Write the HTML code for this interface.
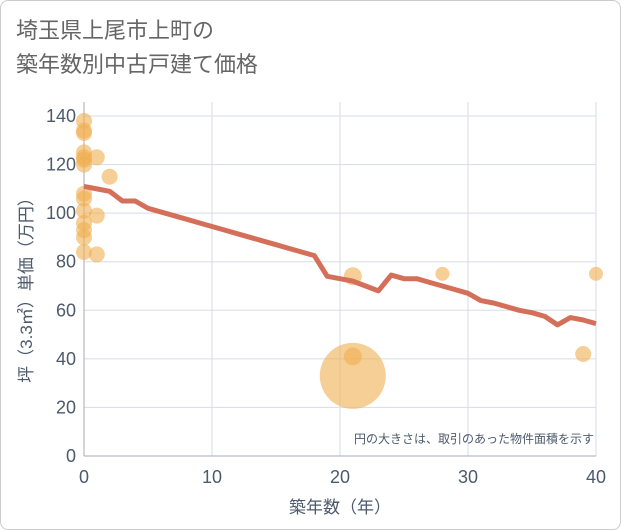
<!DOCTYPE html>
<html><head><meta charset="utf-8"><style>
body{margin:0;background:#fff;}
#wrap{position:relative;width:621px;height:530px;font-family:"Liberation Sans","Noto Sans CJK JP",sans-serif;}
#frame{position:absolute;left:0;top:0;width:619px;height:528px;border:1px solid #ccc;border-radius:8px;}
#title{position:absolute;left:16px;top:14px;font-size:22px;line-height:34px;color:#666;}
</style></head><body>
<div id="wrap">
<div id="frame"></div>
<div id="title">埼玉県上尾市上町の<br>築年数別中古戸建て価格</div>
<svg id="chart" width="621" height="530" style="position:absolute;left:0;top:0"></svg>
</div>
<script>
const xTicks=[0,10,20,30,40];
const yTicks=[0,20,40,60,80,100,120,140];
const lineX=[0,1,2,3,4,5,6,7,8,9,10,11,12,13,14,15,16,17,18,19,20,21,22,23,24,25,26,27,28,29,30,31,32,33,34,35,36,37,38,39,40];
const lineY=[111,110,109,105,105,102,100.5,99,97.5,96,94.5,93,91.5,90,88.5,87,85.5,84,82.5,74,73,72,70,68,74.5,73,73,71.5,70,68.5,67,64,63,61.5,60,59,57.5,54,57,56,54.5];
const ptX=[0,0,0,0,0,0,0,0,0,0,0,0,0,0,1,1,1,2,21,28,40,39,21,21];
const ptY=[138,134,133,125,123,122,120,108,106,101,96,93,90,84,123,99,83,115,74,75,75,42,41,33];
const ptR=[8,8,8,8,8,8,8,8,8,8,8,8,8,8,8,8,8,8,9,7,7,8,9,33];
const NS="http://www.w3.org/2000/svg";
const svg=document.getElementById('chart');
const X0=84,X1=596,Y0=456,Y1=116;
const TXT='#4d5a6b';
const sx=v=>X0+(v-0)/40*(X1-X0);
const sy=v=>Y0-v/140*(Y0-Y1);
function el(t,a){const e=document.createElementNS(NS,t);for(const k in a)e.setAttribute(k,a[k]);svg.appendChild(e);return e;}
xTicks.forEach(t=>{
 const g=el('line',{x1:sx(t),x2:sx(t),y1:Y1-14,y2:Y0,stroke:'#d5dde8','stroke-width':1});
 
 
 const l=el('text',{x:sx(t),y:Y0+27,'text-anchor':'middle','font-size':18,fill:TXT});
 l.textContent=t;
 
 
});
yTicks.forEach(t=>{
 const g=el('line',{x1:X0,x2:X1,y1:sy(t),y2:sy(t),stroke:'#d5dde8','stroke-width':1});
 
 
 const l=el('text',{x:X0-8,y:sy(t)+6,'text-anchor':'end','font-size':18,fill:TXT});
 l.textContent=t;
 
 
});
const ax=el('line',{x1:X0,x2:X0,y1:Y1-14,y2:Y0,stroke:'#aab','stroke-width':1});


const ax2=el('line',{x1:X0,x2:X1,y1:Y0,y2:Y0,stroke:'#aab','stroke-width':1});


ptX.forEach((v,i)=>{
 const c=el('circle',{cx:sx(v),cy:sy(ptY[i]),r:ptR[i],fill:'rgba(240,175,80,0.6)'});
 
 
});
const p=el('polyline',{points:lineX.map((v,i)=>sx(v)+','+sy(lineY[i])).join(' '),fill:'none',stroke:'#d4705a','stroke-width':5,'stroke-linejoin':'round'});


const n=el('text',{x:594,y:443,'text-anchor':'end','font-size':12,fill:TXT});
n.textContent='円の大きさは、取引のあった物件面積を示す';


const xt=el('text',{x:(X0+X1)/2,y:513,'text-anchor':'middle','font-size':17,fill:TXT});
xt.textContent='築年数（年）';


const yt=el('text',{x:0,y:0,'text-anchor':'middle','font-size':17,fill:TXT,transform:'translate(32,'+(Y0+Y1)/2+') rotate(-90)'});
yt.textContent='坪（3.3㎡）単価（万円）';


</script>
</body></html>
